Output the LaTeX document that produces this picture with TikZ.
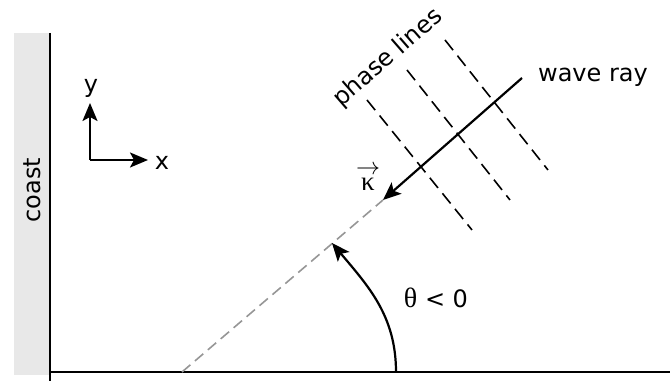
\documentclass[tikz,border=0pt]{standalone}
\usepackage{fontspec}
\setmainfont{DejaVu Sans}
\newfontfamily\greekfont{Liberation Serif}
\usetikzlibrary{arrows.meta}
\definecolor{coastgray}{RGB}{232,232,232}
\definecolor{raygray}{RGB}{150,150,150}
\tikzset{
  lbl/.style={inner sep=0pt, font=\fontsize{12}{14}\selectfont},
  arr/.style={line width=1.1pt, -{Stealth[length=9pt,width=7.5pt,inset=2pt]}},
  phaseline/.style={line width=0.8pt, dash pattern=on 6.5pt off 3.5pt},
  greyray/.style={line width=0.8pt, raygray, dash pattern=on 5.5pt off 3pt},
  border/.style={line width=0.8pt}
}
\begin{document}
\begin{tikzpicture}[x=0.5pt,y=0.5pt]
\useasboundingbox (0,0) rectangle (670,385);
% coast
\fill[coastgray] (14,10) rectangle (50,352);
\node[lbl, rotate=90] (coast) at (32,195) {coast};
\coordinate (wtop) at (50,352);
\coordinate (wbot) at (50,4);
\draw[border] (wtop) -- (wbot);
\coordinate (bl) at (50,13);
\coordinate (br) at (670,13);
\draw[border] (bl) -- (br);
% axes
\coordinate (o) at (90,225);
\coordinate (ytip) at (90,282);
\coordinate (xtip) at (148,225);
\draw[arr] (o) -- (ytip);
\draw[arr] (o) -- (xtip);
\node[lbl] (ylab) at (91,297) {y};
\node[lbl] (xlab) at (162,222) {x};
% grey extension of ray
\coordinate (g0) at (182,13);
\coordinate (rtip) at (383,185);
\draw[greyray] (g0) -- (rtip);
% wave ray
\coordinate (r0) at (522,307);
\draw[arr] (r0) -- (rtip);
\node[lbl] (wr) at (593,308) {wave ray};
% phase lines
\coordinate (p1a) at (367,285); \coordinate (p1b) at (472,155);
\coordinate (p2a) at (407,315); \coordinate (p2b) at (510,185);
\coordinate (p3a) at (445,345); \coordinate (p3b) at (548,215);
\draw[phaseline] (p1a) -- (p1b);
\draw[phaseline] (p2a) -- (p2b);
\draw[phaseline] (p3a) -- (p3b);
\node[lbl, rotate=41] (pl) at (388,327) {phase lines};
% kappa
\node[lbl] (kappa) at (368,208) {$\mathop{\hbox{\fontsize{13.5}{14}\greekfont κ}}\limits^{\hbox{$\rightarrow$}}$};
% angle
\coordinate (a0) at (396,13);
\coordinate (a1) at (332,142);
\draw[arr] (a0) to[out=90, in=-50] (a1);
\node[lbl] (theta) at (436,87) {{\fontsize{14}{14}\greekfont θ} < 0};
\end{tikzpicture}
\end{document}
